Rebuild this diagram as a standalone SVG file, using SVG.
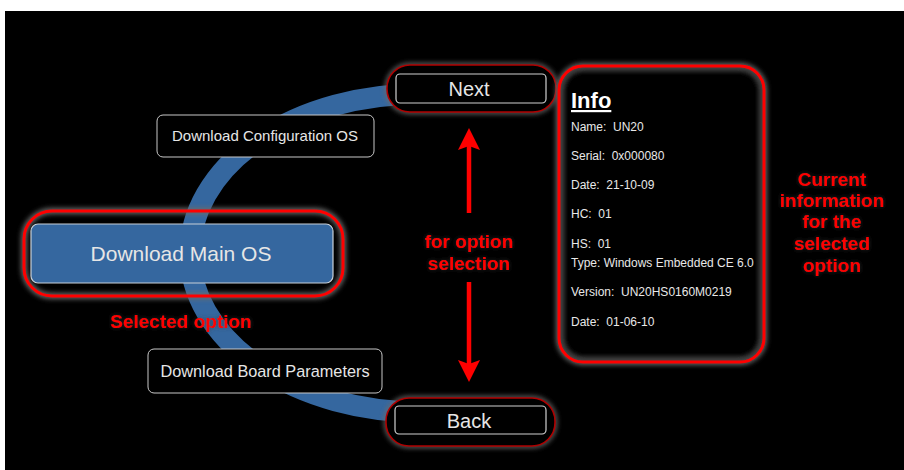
<svg xmlns="http://www.w3.org/2000/svg" width="904" height="470" viewBox="0 0 904 470">
<defs>
<style>
.lbl{font-family:"Liberation Sans",Arial,sans-serif;fill:#e6e6e6}
.red{font-family:"Liberation Sans",Arial,sans-serif;font-weight:bold;fill:#ff0000;font-size:19px;text-anchor:middle}
.info{font-family:"Liberation Sans",Arial,sans-serif;fill:#e8e8e8;font-size:12px;white-space:pre}
.wbox{fill:#000;stroke:#d0d0d0;stroke-width:1.2}
.glow{fill:none;stroke:#6a6a6a;filter:url(#blur)}
</style>
<filter id="blur" x="-20%" y="-20%" width="140%" height="140%"><feGaussianBlur stdDeviation="2.5"/></filter>
<filter id="tshadow" x="-20%" y="-30%" width="140%" height="160%">
<feGaussianBlur in="SourceAlpha" stdDeviation="2" result="b"/>
<feFlood flood-color="#3a3a3a" flood-opacity="0.7" result="f"/>
<feComposite in="f" in2="b" operator="in" result="s"/>
<feMerge><feMergeNode in="s"/><feMergeNode in="SourceGraphic"/></feMerge>
</filter>
<marker id="head" viewBox="0 0 22 22" refX="4" refY="11" markerWidth="22" markerHeight="22" markerUnits="userSpaceOnUse" orient="auto">
<path d="M0,0 L22,11 L0,22 L4,11 z" fill="#ff0000"/>
</marker>
</defs>
<rect x="0" y="0" width="904" height="470" fill="#ffffff"/>
<rect x="5" y="11" width="899" height="459" fill="#000000"/>

<g id="track">
<path d="M 420 94 A 230 159 0 0 0 420 412" fill="none" stroke="#35679f" stroke-width="21"/>
</g>

<g id="next">
<rect class="glow" x="387" y="65" width="169" height="47" rx="23" stroke-width="4"/>
<rect x="387" y="65" width="169" height="47" rx="23" fill="#000" stroke="#b00000" stroke-width="1.6"/>
<rect class="wbox" x="396" y="74" width="150" height="29" rx="4"/>
<text class="lbl" x="469" y="96" font-size="20" text-anchor="middle" fill="#fff">Next</text>
</g>

<g id="back">
<rect class="glow" x="386" y="398" width="169" height="48" rx="23" stroke-width="4"/>
<rect x="386" y="398" width="169" height="48" rx="23" fill="#000" stroke="#b00000" stroke-width="1.6"/>
<rect class="wbox" x="395" y="406" width="151" height="28" rx="4"/>
<text class="lbl" x="469" y="428" font-size="20" text-anchor="middle">Back</text>
</g>

<g id="config-os">
<rect x="157" y="115" width="217" height="42" rx="6" fill="#000" stroke="#c8c8c8" stroke-width="1"/>
<text class="lbl" x="265" y="141" font-size="15" text-anchor="middle">Download Configuration OS</text>
</g>

<g id="board-params">
<rect x="148" y="349" width="234" height="44" rx="6" fill="#000" stroke="#c8c8c8" stroke-width="1"/>
<text class="lbl" x="265" y="377" font-size="16.3" text-anchor="middle">Download Board Parameters</text>
</g>

<g id="main-os">
<rect class="glow" x="24" y="211" width="319" height="85" rx="28" stroke-width="6"/>
<rect x="24" y="211" width="319" height="85" rx="28" fill="none" stroke="#ff0000" stroke-width="3"/>
<rect x="31" y="224" width="302" height="59" rx="7" fill="#35679f" stroke="#c8d0d8" stroke-width="1.2"/>
<text class="lbl" x="181" y="261" font-size="21" text-anchor="middle" fill="#fff">Download Main OS</text>
<text class="red" x="181" y="328" filter="url(#tshadow)">Selected option</text>
</g>

<g id="info">
<rect class="glow" x="559" y="66" width="205" height="296" rx="24" stroke-width="6"/>
<rect x="562" y="69" width="199" height="290" rx="22" fill="none" stroke="#3a3a3a" stroke-width="4" filter="url(#blur)"/>
<rect x="559" y="66" width="205" height="296" rx="24" fill="none" stroke="#ff0000" stroke-width="3"/>
<text x="571" y="108" font-family="'Liberation Sans',Arial,sans-serif" font-weight="bold" font-size="22" fill="#fff" text-decoration="underline">Info</text>
<text class="info" x="571" y="131">Name:  UN20</text>
<text class="info" x="571" y="160">Serial:  0x000080</text>
<text class="info" x="571" y="189">Date:  21-10-09</text>
<text class="info" x="571" y="218">HC:  01</text>
<text class="info" x="571" y="248">HS:  01</text>
<text class="info" x="571" y="267">Type: Windows Embedded CE 6.0</text>
<text class="info" x="571" y="296">Version:  UN20HS0160M0219</text>
<text class="info" x="571" y="326">Date:  01-06-10</text>
</g>

<g id="info-note">
<text class="red" x="832" y="186" font-size="18" filter="url(#tshadow)">Current</text>
<text class="red" x="832" y="207" font-size="18" filter="url(#tshadow)">information</text>
<text class="red" x="832" y="228" font-size="18" filter="url(#tshadow)">for the</text>
<text class="red" x="832" y="250" font-size="18" filter="url(#tshadow)">selected</text>
<text class="red" x="832" y="272" font-size="18" filter="url(#tshadow)">option</text>
</g>

<g id="selection-note">
<text class="red" x="469" y="248" filter="url(#tshadow)">for option</text>
<text class="red" x="469" y="270" filter="url(#tshadow)">selection</text>
</g>

<g id="connectors">
<line x1="469" y1="213" x2="469" y2="146" stroke="#ff0000" stroke-width="4.5" marker-end="url(#head)"/>
<line x1="469" y1="282" x2="469" y2="364" stroke="#ff0000" stroke-width="4.5" marker-end="url(#head)"/>
</g>
</svg>
